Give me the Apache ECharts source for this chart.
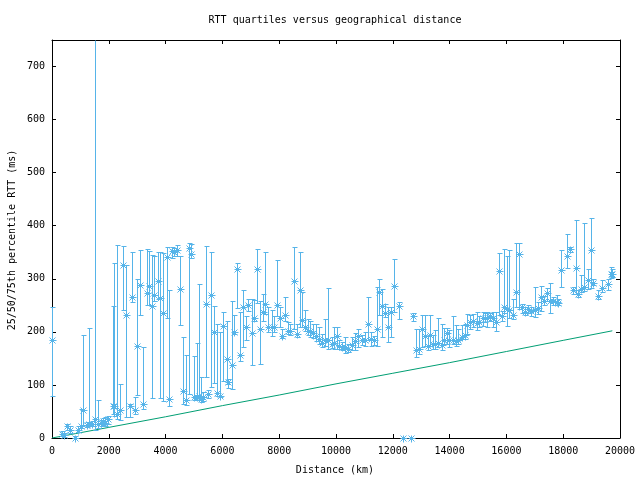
<!DOCTYPE html>
<html><head><meta charset="utf-8">
<script src="https://cdn.jsdelivr.net/npm/echarts@6/dist/echarts.min.js"></script>
<style>html,body{margin:0;padding:0;background:#fff}#c{width:640px;height:480px}</style>
</head><body><div id="c"></div>
<script>
// Distance (km) of each measurement bucket
const distances = [0,340,420,516,634,810,927,1010,1104,1221,1315,1420,1530,1632,1720,1784,1867,1984,2137,2200,2278,2395,2512,2607,2747,2806,2935,3005,3099,3217,3334,3415,
3532,3603,3720,3802,3920,4037,4119,4213,4307,4401,4507,4624,4730,4824,4906,5011,5094,5176,5246,5328,5434,5505,5610,5716,5810,5927,6033,6150,6185,6326,6420,6530,6620,6730,6819,
6912,7030,7112,7230,7323,7417,7500,7617,7734,7816,7934,8028,8110,8204,8321,8380,8521,8638,8732,8791,8908,9002,9084,9178,9296,9413,9495,9613,9730,9847,9941,10047,
10105,10199,10316,10434,10551,10669,10786,10903,11021,11138,11232,11349,11432,11525,11631,11725,11819,11936,12030,12230,12347,12641,12723,12817,12923,13040,13134,13228,13310,
13400,13485,13602,13720,13802,13896,13990,14107,14225,14307,14424,14542,14601,14718,14835,14953,15046,15164,15246,15328,15422,15516,15633,15751,15833,15915,16009,16103,16220,16338,16455,16537,16655,16772,
16850,17006,17100,17218,17323,17417,17535,17652,17769,17828,17922,18122,18239,18356,18439,18533,18626,18744,18861,18967,19061,19237,19354,19566,19683,19730];
// 25th percentile RTT (ms)
const q1 = [80,3,2,15,10,0,12,18,25,20,22,22,15,18,22,25,22,27,46,42,35,33,241,40,40,256,46,81,231,55,251,250,
76,258,262,75,70,227,60,340,343,343,212,65,63,83,340,71,71,72,68,70,115,76,96,104,80,77,108,102,95,93,196,245,146,171,184,
240,138,220,254,140,221,234,200,193,200,230,210,188,221,196,195,206,190,209,209,202,195,190,188,183,177,171,174,168,170,168,168,
168,165,161,163,165,165,171,176,174,184,174,176,173,232,190,228,180,190,237,225,0,0,220,152,158,171,174,166,174,
168,168,171,166,177,177,171,177,174,177,187,187,196,205,209,204,210,211,218,209,220,209,202,232,220,235,211,227,224,246,243,236,231,235,
230,228,234,240,250,258,235,250,250,250,284,320,350,271,271,266,275,277,280,283,288,262,275,278,302,303];
// median RTT (ms)
const median = [185,8,5,22,16,0,16,22,53,25,27,27,36,27,28,32,28,35,60,60,46,53,326,232,60,266,53,174,289,65,274,286,
249,269,296,264,236,341,74,353,350,354,281,88,72,358,346,77,77,80,74,77,252,83,269,200,85,80,211,149,105,137,200,318,157,246,210,
251,197,227,318,206,237,253,209,209,210,251,226,193,231,201,201,296,196,278,222,209,202,201,197,193,187,179,185,185,177,179,193,
174,172,171,168,175,182,193,185,184,214,187,184,206,276,249,236,210,238,286,249,0,0,229,166,168,206,193,174,195,
177,177,179,176,184,197,185,185,182,185,191,195,212,218,221,216,218,227,227,226,229,227,218,315,229,246,243,241,231,276,346,246,237,243,
239,241,245,266,258,274,258,258,256,254,316,343,356,278,320,271,281,285,298,354,293,268,283,291,309,309];
// 75th percentile RTT (ms)
const q3 = [247,14,10,26,22,3,22,55,194,30,207,32,900,71,34,38,40,41,249,330,364,101,362,326,65,350,78,300,354,171,356,353,
345,343,351,351,348,359,279,360,358,364,343,191,157,367,365,154,179,290,115,87,361,90,351,249,215,199,238,221,112,259,232,330,237,279,230,
262,262,260,356,259,271,351,246,241,230,335,246,205,265,218,215,359,214,351,275,242,225,220,215,215,209,196,224,283,190,210,210,
185,180,190,178,190,198,206,195,200,265,200,192,284,300,281,252,246,246,337,256,0,0,235,206,206,231,231,193,232,
195,203,227,215,208,208,203,229,212,206,212,214,234,232,234,237,230,238,235,237,236,237,237,348,240,357,343,354,262,368,368,252,246,250,
246,284,256,287,268,282,292,265,269,262,354,385,360,284,410,278,307,406,318,414,300,278,297,299,323,318];
// green reference line (theoretical minimum RTT)
const minDist = [0,2000,4000,6000,8000,10000,12000,14000,16000,18000,19730];
const minRtt  = [0,20,40,61,81,102,122,142,163,184,202];

const xTickLabels = [0,2000,4000,6000,8000,10000,12000,14000,16000,18000,20000];
const yTickLabels = [0,100,200,300,400,500,600,700];

const FONT = 'DejaVu Sans Mono';
const BLUE = '#56b4e9', GREEN = '#009e73';

function seg(x1,y1,x2,y2){
  return {type:'line', shape:{x1,y1,x2,y2}, style:{stroke:BLUE, lineWidth:1, fill:null}};
}
function renderBar(params, api){
  const cs = params.coordSys;
  const x = api.value(0);
  const pLo = api.coord([x, api.value(1)]);
  const pMed = api.coord([x, api.value(2)]);
  const pHi = api.coord([x, api.value(3)]);
  const px = Math.round(pLo[0]) + 0.5;
  let yHi = pHi[1], capHi = true;
  if (yHi < cs.y) { yHi = cs.y; capHi = false; }
  yHi = Math.round(yHi) + 0.5;
  const yLo = Math.round(pLo[1]) + 0.5;
  const ym = Math.round(pMed[1]) + 0.5;
  const c = 2, s = 3;
  const ch = [seg(px,yLo,px,yHi), seg(px-c,yLo,px+c+1,yLo)];
  if (capHi) ch.push(seg(px-c,yHi,px+c+1,yHi));
  ch.push(seg(px-s,ym,px+s+1,ym), seg(px,ym-s,px,ym+s+1), seg(px-s,ym-s,px+s,ym+s), seg(px-s,ym+s,px+s,ym-s));
  return {type:'group', children: ch};
}

const axisCommon = {
  axisLine:{show:true, onZero:false, lineStyle:{color:'#000', width:1}},
  axisTick:{show:true, inside:true, length:4, lineStyle:{color:'#000'}},
  splitLine:{show:false}
};
const chart = echarts.init(document.getElementById('c'), null, {renderer:'canvas'});
chart.setOption({
  backgroundColor:'#fff',
  animation:false,
  grid:{left:52, right:20, top:40, bottom:42},
  xAxis:[
    Object.assign({type:'value', min:0, max:20000, interval:2000, position:'bottom',
      axisLabel:{color:'#000', fontFamily:FONT, fontSize:10, margin:8,
        formatter:v=> xTickLabels.includes(v) ? String(v) : ''}}, axisCommon),
    Object.assign({type:'value', min:0, max:20000, interval:2000, position:'top',
      axisLabel:{show:false}}, axisCommon)
  ],
  yAxis:[
    Object.assign({type:'value', min:0, max:750, interval:100, position:'left',
      axisLabel:{color:'#000', fontFamily:FONT, fontSize:10, margin:7,
        formatter:v=> yTickLabels.includes(v) ? String(v) : ''}}, axisCommon),
    Object.assign({type:'value', min:0, max:750, interval:100, position:'right',
      axisLabel:{show:false}}, axisCommon)
  ],
  graphic:[
    {type:'text', x:335, y:20, style:{text:'RTT quartiles versus geographical distance', font:'10px '+FONT, fill:'#000', textAlign:'center', textVerticalAlign:'middle'}},
    {type:'text', x:335, y:470, style:{text:'Distance (km)', font:'10px '+FONT, fill:'#000', textAlign:'center', textVerticalAlign:'middle'}},
    {type:'text', x:12, y:240, rotation:Math.PI/2, style:{text:'25/50/75th percentile RTT (ms)', font:'10px '+FONT, fill:'#000', textAlign:'center', textVerticalAlign:'middle'}}
  ],
  series:[
    {type:'line', data:minDist.map((d,i)=>[d,minRtt[i]]), showSymbol:false, symbol:'none',
      lineStyle:{color:GREEN, width:1}, z:2},
    {type:'custom', renderItem:renderBar, data:distances.map((d,i)=>[d,q1[i],median[i],q3[i]]),
      encode:{x:0, y:[1,2,3]}, z:3}
  ]
});
</script></body></html>
